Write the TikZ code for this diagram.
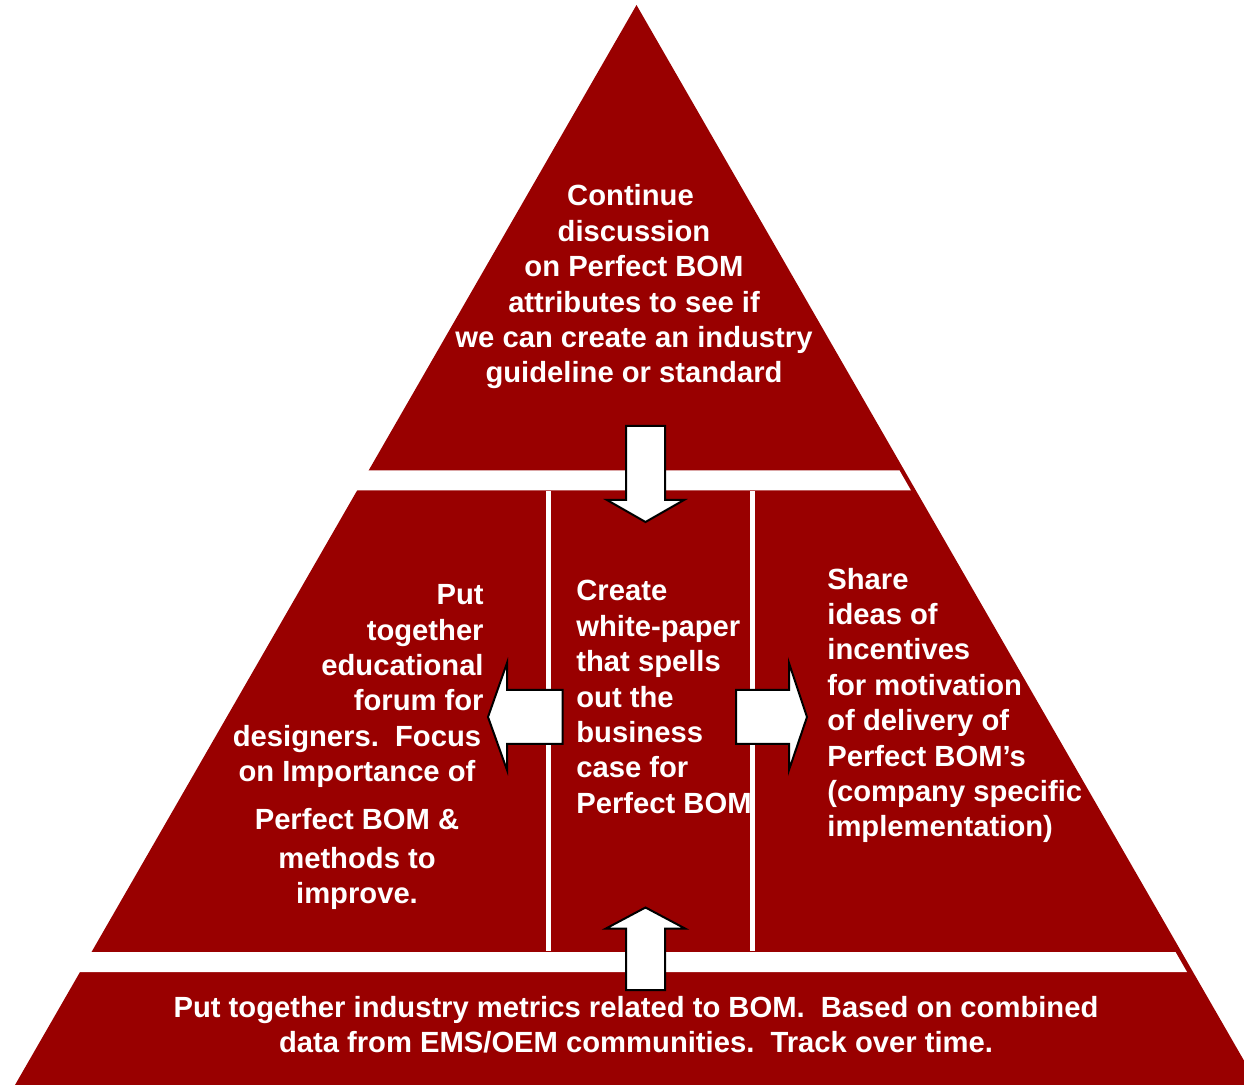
\documentclass[tikz,border=0pt]{standalone}
\usepackage{fontspec}
\setmainfont{Liberation Sans}
\definecolor{pyr}{RGB}{153,0,0}
\begin{document}
\begin{tikzpicture}[x=0.5pt,y=-0.5pt,
  txt/.style={text=white, font=\bfseries\fontsize{14.6}{17.7}\selectfont, inner sep=0},
  blockarrow/.style={fill=white, draw=black, line width=1pt, line join=miter},
  gap/.style={fill=white}]
\useasboundingbox (0,0) rectangle (1244,1085);
% pyramid
\fill[pyr] (636.5,5) -- (1244,1060.6) -- (1244,1085) -- (15,1085) -- cycle;
% white gaps (right ends stop just inside the pyramid edge)
\fill[gap] (300,470.5) -- (899.5,470.5) -- (911,490.5) -- (300,490.5) -- cycle;
\fill[gap] (0,952) -- (1175.5,952) -- (1187,972) -- (0,972) -- cycle;
\fill[gap] (545.5,491) rectangle (550.5,951);
\fill[gap] (749.5,491) rectangle (754.5,951);
% texts
\node[txt, align=center] (top) at (634,287) {Continue\hspace*{3.5pt}\\discussion\hspace*{3.5pt}\\on Perfect BOM\\attributes to see if\hspace*{3pt}\\we can create an industry\\guideline or standard};
\node[txt, align=right, anchor=east] (lefta) at (484,648) {Put\\together\\educational\\forum for};
\node[txt, align=center] (leftb) at (357,756.5) {designers.\ \ Focus\\on Importance of};
\node[txt, align=center] (leftc) at (357,859) {Perfect BOM \&\\[1.8pt]methods to\\improve.};
\node[txt, align=left, anchor=west] (mid) at (576,697) {Create\\white-paper\\that spells\\out the\\business\\case for\\Perfect BOM};
\node[txt, align=left, anchor=west] (right) at (827,705.5) {Share\\ideas of\\incentives\\for motivation\\of delivery of\\Perfect BOM’s\\(company specific\\implementation)};
\node[txt, align=center] (bottom) at (636,1025) {Put together industry metrics related to BOM.\ \ Based on combined\\data from EMS/OEM communities.\ \ Track over time.};
% block arrows
\draw[blockarrow] (626,426) -- (665,426) -- (665,500) -- (684,500) -- (645.5,522) -- (607,500) -- (626,500) -- cycle;
\draw[blockarrow] (626,990) -- (665,990) -- (665,928.5) -- (685,928.5) -- (645.5,907.5) -- (606,928.5) -- (626,928.5) -- cycle;
\draw[blockarrow] (562.7,690) -- (562.7,744) -- (507,744) -- (507,770) -- (488,717) -- (507,663) -- (507,690) -- cycle;
\draw[blockarrow] (736,690) -- (789,690) -- (789,663) -- (807,717) -- (789,770) -- (789,744) -- (736,744) -- cycle;
\end{tikzpicture}
\end{document}
